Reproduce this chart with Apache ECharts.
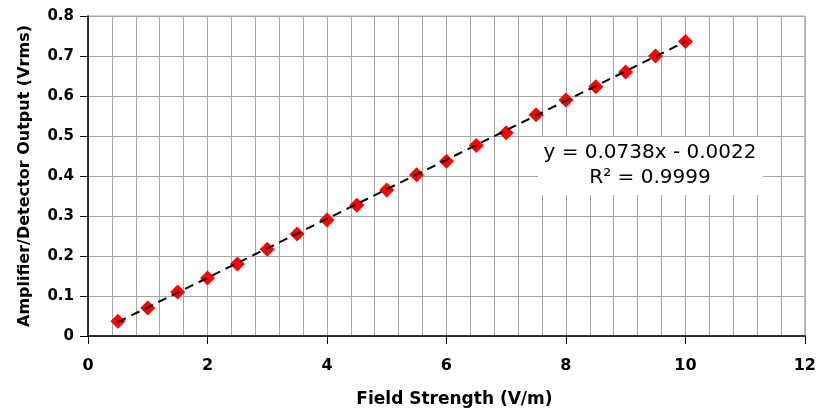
<!DOCTYPE html>
<html>
<head>
<meta charset="utf-8">
<script src="https://cdn.jsdelivr.net/npm/echarts@6/dist/echarts.min.js"></script>
<style>
  html, body { margin: 0; padding: 0; background: #fff; }
  #chart { width: 819px; height: 413px; }
</style>
</head>
<body>
<div id="chart"></div>
<script>
  // field strength (V/m) and measured output (Vrms)
  const fieldStrength = [0.5, 1, 1.5, 2, 2.5, 3, 3.5, 4, 4.5, 5, 5.5, 6, 6.5, 7, 7.5, 8, 8.5, 9, 9.5, 10];
  const outputVrms = [0.037, 0.070, 0.110, 0.145, 0.180, 0.217, 0.255, 0.290, 0.327, 0.365,
                      0.403, 0.437, 0.476, 0.508, 0.553, 0.590, 0.623, 0.660, 0.700, 0.736];
  // linear trendline shown on the chart
  const slope = 0.0738;
  const intercept = -0.0022;
  const eqLine1 = 'y = 0.0738x - 0.0022';
  const eqLine2 = 'R² = 0.9999';

  const points = fieldStrength.map((x, i) => [x, outputVrms[i]]);
  const xFirst = fieldStrength[0];
  const xLast = fieldStrength[fieldStrength.length - 1];
  const trend = [[xFirst, slope * xFirst + intercept], [xLast, slope * xLast + intercept]];

  const chart = echarts.init(document.getElementById('chart'));
  const font = '"DejaVu Sans", Arial, sans-serif';
  const gridColor = '#a6a6a6';
  chart.setOption({
    animation: false,
    grid: {
      left: 88, right: 13, top: 16, bottom: 77,
      show: true, borderColor: gridColor, borderWidth: 1
    },
    xAxis: {
      type: 'value', min: 0, max: 12, interval: 2,
      name: 'Field Strength (V/m)', nameLocation: 'middle', nameGap: 55,
      nameTextStyle: { fontFamily: font, fontWeight: 'bold', fontSize: 17, color: '#000', padding: [0, 0, 0, 16] },
      axisLine: { show: true, onZero: false, lineStyle: { color: '#000', width: 1.5 } },
      axisTick: { show: true, length: 8, lineStyle: { color: '#000' } },
      axisLabel: { margin: 22, fontFamily: font, fontWeight: 'bold', fontSize: 16, color: '#000' },
      splitLine: { show: true, lineStyle: { color: gridColor, width: 1 } },
      minorTick: { show: false, splitNumber: 5 },
      minorSplitLine: { show: true, lineStyle: { color: gridColor, width: 1 } }
    },
    yAxis: {
      type: 'value', min: 0, max: 0.8, interval: 0.1,
      name: 'Amplifier/Detector Output (Vrms)', nameLocation: 'middle', nameGap: 55,
      nameTextStyle: { fontFamily: font, fontWeight: 'bold', fontSize: 16, color: '#000' },
      axisLine: { show: true, lineStyle: { color: '#000', width: 1.5 } },
      axisTick: { show: true, length: 8, lineStyle: { color: '#000' } },
      axisLabel: { margin: 14, fontFamily: font, fontWeight: 'bold', fontSize: 15, color: '#000',
        formatter: v => String(Math.round(v * 10) / 10) },
      splitLine: { show: true, lineStyle: { color: gridColor, width: 1 } }
    },
    series: [
      {
        type: 'scatter', data: points,
        symbol: 'diamond', symbolSize: 15,
        itemStyle: { color: '#ff0000', opacity: 1 }, z: 2
      },
      {
        type: 'line', data: trend, symbol: 'none',
        lineStyle: { color: '#000', width: 2, type: [9, 6] }, z: 3
      }
    ],
    graphic: [
      { type: 'rect', z: 100, shape: { x: 538, y: 137, width: 225, height: 58 }, style: { fill: '#fff' } },
      { type: 'text', z: 101, x: 650, y: 153,
        style: { text: eqLine1, font: '20px ' + font, fill: '#000', align: 'center', verticalAlign: 'middle' } },
      { type: 'text', z: 101, x: 650, y: 178,
        style: { text: eqLine2, font: '20px ' + font, fill: '#000', align: 'center', verticalAlign: 'middle' } }
    ]
  });
</script>
</body>
</html>
